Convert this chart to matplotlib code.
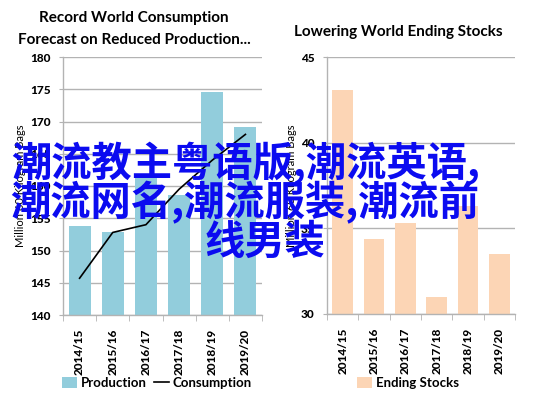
import numpy as np
import matplotlib
matplotlib.use("Agg")
import matplotlib.pyplot as plt

# --- data ---
years = ["2014/15", "2015/16", "2016/17", "2017/18", "2018/19", "2019/20"]
production = [153.8, 152.9, 161.7, 158.6, 174.5, 169.1]
consumption = [145.7, 152.8, 154.0, 159.5, 164.0, 168.0]
ending_stocks = [43.1, 34.4, 35.3, 31.0, 36.3, 33.5]

overlay_lines = ["潮流教主粤语版,潮流英语,", "潮流网名,潮流服装,潮流前", "线男装"]

prod_color = "#92cddc"
stock_color = "#fcd5b5"
grid_color = "#b3b3b3"
overlay_color = "#0b0bf0"

plt.rcParams['font.family'] = ['Lato', 'DejaVu Sans']

fig = plt.figure(figsize=(5.37, 3.99), dpi=100)
W, H = 537, 399

def px_axes(x0, y0, x1, y1):
    return fig.add_axes([x0 / W, 1 - y1 / H, (x1 - x0) / W, (y1 - y0) / H])

ax1 = px_axes(63, 57, 262, 315)
ax2 = px_axes(327, 57, 515, 314)

x = np.arange(len(years))


def style_axis(ax, ylim, step):
    ax.set_xlim(-0.5, len(years) - 0.5)
    ax.set_ylim(*ylim)
    ax.set_yticks(np.arange(ylim[0], ylim[1] + 0.1, step))
    ax.yaxis.grid(True, color=grid_color, linewidth=1.0)
    ax.set_axisbelow(True)
    for s in ["top", "right"]:
        ax.spines[s].set_visible(False)
    for s in ["left", "bottom"]:
        ax.spines[s].set_color(grid_color)
        ax.spines[s].set_linewidth(1.0)
    ax.set_xticks(x)
    ax.set_xticklabels(years, rotation=90, fontsize=8.5, fontweight="black", va="top")
    ax.set_xticks(np.arange(-0.5, len(years)), minor=True)
    ax.tick_params(axis="x", which="major", length=0, pad=10)
    ax.tick_params(axis="x", which="minor", length=4, color=grid_color)
    ax.tick_params(axis="y", length=3, color=grid_color, pad=6)
    for lab in ax.get_yticklabels():
        lab.set_fontsize(8.5)
        lab.set_fontweight("black")
    ax.set_ylabel("Million 60 Kilogram Bags", fontsize=8, labelpad=3)


# left chart
bars = ax1.bar(x, production, width=0.66, color=prod_color, label="Production", zorder=2)
line, = ax1.plot(x, consumption, color="black", linewidth=1.2, label="Consumption", zorder=3)
style_axis(ax1, (140, 180), 5)
ax1.legend(handles=[bars, line], loc="center", bbox_to_anchor=(157 / W, 1 - 383 / H),
           bbox_transform=fig.transFigure, ncol=2, frameon=False, handlelength=1.1,
           handletextpad=0.3, columnspacing=0.6, prop={"weight": "bold", "size": 9.5},
           handleheight=0.9)

# right chart
ax2.bar(x, ending_stocks, width=0.67, color=stock_color, label="Ending Stocks", zorder=2)
style_axis(ax2, (30, 45), 5)
ax2.legend(loc="center", bbox_to_anchor=(408 / W, 1 - 383 / H), bbox_transform=fig.transFigure,
           frameon=False, handlelength=1.1, handletextpad=0.3,
           prop={"weight": "bold", "size": 9.5}, handleheight=0.9)

# titles
fig.text(134 / W, 1 - 18 / H, "Record World Consumption", ha="center", va="center",
         fontsize=11, fontweight="bold")
fig.text(134 / W, 1 - 40 / H, "Forecast on Reduced Production...", ha="center", va="center",
         fontsize=11, fontweight="bold")
fig.text(398 / W, 1 - 32 / H, "Lowering World Ending Stocks", ha="center", va="center",
         fontsize=11, fontweight="bold")

# overlay text
overlay_pos = [(246, 164), (245, 203), (265, 242)]
for txt, (px, py) in zip(overlay_lines, overlay_pos):
    fig.text(px / W, 1 - py / H, txt, ha="center", va="center", fontsize=29,
             fontweight="bold", color=overlay_color,
             family=["Noto Sans CJK SC", "DejaVu Sans"], zorder=10)

fig.savefig("out.png", dpi=100)
